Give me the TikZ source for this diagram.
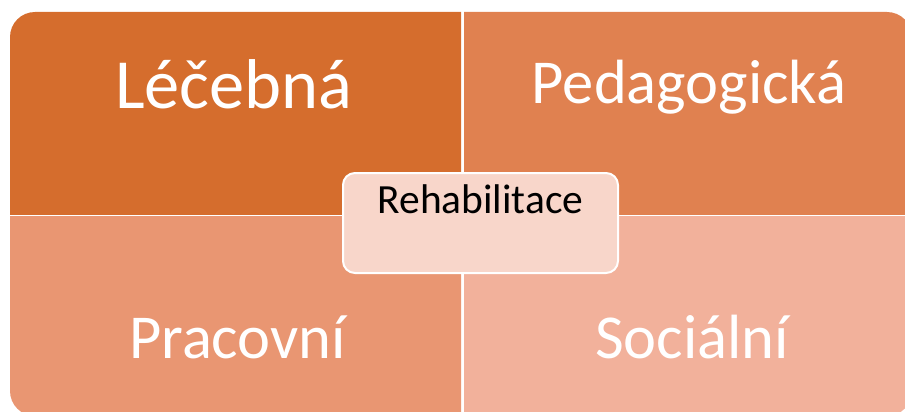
\documentclass[tikz,border=0pt]{standalone}
\usepackage{fontspec}
\usepackage{tikz}
\usetikzlibrary{positioning}
\newfontfamily\carlito{Carlito}
\definecolor{quadA}{RGB}{213,109,45}
\definecolor{quadB}{RGB}{224,129,80}
\definecolor{quadC}{RGB}{233,150,114}
\definecolor{quadD}{RGB}{242,177,155}
\definecolor{centerfill}{RGB}{248,214,202}
\tikzset{bigtext/.style={text=white, anchor=base, inner sep=0pt},
  centerbox/.style={rounded corners=12pt, draw=white, line width=2pt, fill=centerfill, minimum width=275pt, inner xsep=0pt, inner ysep=0pt, text height=40pt, text depth=60pt, font=\carlito\fontsize{41.5}{50}\selectfont},}

\begin{document}
\begin{tikzpicture}[x=1pt, y=-1pt]
\useasboundingbox (0,0) rectangle (905,412);
\clip (0,0) rectangle (905,412);
% the four parts of the matrix
\foreach \xa/\ya/\xb/\yb/\col in {10/12/461/214/quadA, 464/12/912/214/quadB, 10/216/461/416/quadC, 464/216/912/416/quadD}
{
  \begin{scope}
    \clip (\xa,\ya) rectangle (\xb,\yb);
    \fill[\col, rounded corners=25pt] (10,12) rectangle (912,416);
  \end{scope}
}
\node [bigtext, font=\carlito\fontsize{70.5}{84}\selectfont] (lecebna) at (234,108) {Léčebná};
\node [bigtext, font=\carlito\fontsize{62.5}{75}\selectfont] (pedagogicka) at (689,103) {Pedagogická};
\node [bigtext, font=\carlito\fontsize{62.5}{75}\selectfont] (pracovni) at (237.5,358) {Pracovní};
\node [bigtext, font=\carlito\fontsize{62.5}{75}\selectfont] (socialni) at (692,358) {Sociální};
\node [centerbox, anchor=north] (rehab) at (480.5,172) {Rehabilitace};
\end{tikzpicture}
\end{document}
